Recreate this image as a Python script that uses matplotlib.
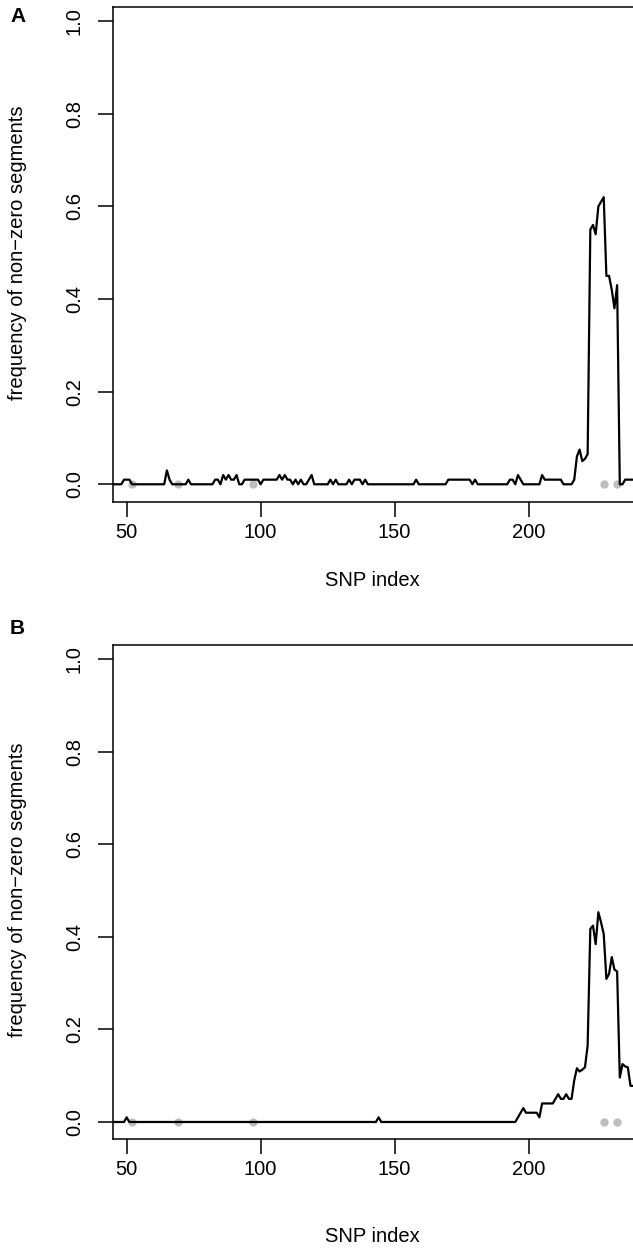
import numpy as np
import matplotlib
matplotlib.use("Agg")
import matplotlib.pyplot as plt

plt.rcParams['font.family'] = ['Liberation Sans', 'DejaVu Sans']

# SNP index for both panels
snp = np.arange(45, 246)

# panel A: frequency of non-zero segments (rows of 10, starting at SNP 45)
freq_a = [
    0, 0, 0, 0, 0.01, 0.01, 0.01, 0, 0, 0,
    0, 0, 0, 0, 0, 0, 0, 0, 0, 0,
    0.03, 0.01, 0, 0, 0, 0, 0, 0, 0.01, 0,
    0, 0, 0, 0, 0, 0, 0, 0, 0.01, 0.01,
    0, 0.02, 0.01, 0.02, 0.01, 0.01, 0.02, 0, 0, 0.01,
    0.01, 0.01, 0.01, 0.01, 0.01, 0, 0.01, 0.01, 0.01, 0.01,
    0.01, 0.01, 0.02, 0.01, 0.02, 0.01, 0.01, 0, 0.01, 0,
    0.01, 0, 0, 0.01, 0.02, 0, 0, 0, 0, 0,
    0, 0.01, 0, 0.01, 0, 0, 0, 0, 0.01, 0,
    0.01, 0.01, 0.01, 0, 0.01, 0, 0, 0, 0, 0,
    0, 0, 0, 0, 0, 0, 0, 0, 0, 0,
    0, 0, 0, 0.01, 0, 0, 0, 0, 0, 0,
    0, 0, 0, 0, 0, 0.01, 0.01, 0.01, 0.01, 0.01,
    0.01, 0.01, 0.01, 0.01, 0, 0.01, 0, 0, 0, 0,
    0, 0, 0, 0, 0, 0, 0, 0, 0.01, 0.01,
    0, 0.02, 0.01, 0, 0, 0, 0, 0, 0, 0,
    0.02, 0.01, 0.01, 0.01, 0.01, 0.01, 0.01, 0.01, 0, 0,
    0, 0, 0.01, 0.06, 0.075, 0.05, 0.055, 0.065, 0.55, 0.56,
    0.54, 0.60, 0.61, 0.62, 0.45, 0.45, 0.42, 0.38, 0.43, 0,
    0, 0.01, 0.01, 0.01, 0.01, 0.01, 0.01, 0.01, 0.01, 0.01,
    0.01,
]

# panel B
freq_b = [
    0, 0, 0, 0, 0, 0.01, 0, 0, 0, 0,
    0, 0, 0, 0, 0, 0, 0, 0, 0, 0,
    0, 0, 0, 0, 0, 0, 0, 0, 0, 0,
    0, 0, 0, 0, 0, 0, 0, 0, 0, 0,
    0, 0, 0, 0, 0, 0, 0, 0, 0, 0,
    0, 0, 0, 0, 0, 0, 0, 0, 0, 0,
    0, 0, 0, 0, 0, 0, 0, 0, 0, 0,
    0, 0, 0, 0, 0, 0, 0, 0, 0, 0,
    0, 0, 0, 0, 0, 0, 0, 0, 0, 0,
    0, 0, 0, 0, 0, 0, 0, 0, 0, 0.01,
    0, 0, 0, 0, 0, 0, 0, 0, 0, 0,
    0, 0, 0, 0, 0, 0, 0, 0, 0, 0,
    0, 0, 0, 0, 0, 0, 0, 0, 0, 0,
    0, 0, 0, 0, 0, 0, 0, 0, 0, 0,
    0, 0, 0, 0, 0, 0, 0, 0, 0, 0,
    0, 0.01, 0.02, 0.03, 0.02, 0.02, 0.02, 0.02, 0.02, 0.01,
    0.04, 0.04, 0.04, 0.04, 0.04, 0.05, 0.06, 0.05, 0.05, 0.06,
    0.05, 0.05, 0.09, 0.116, 0.109, 0.113, 0.118, 0.165, 0.417, 0.424,
    0.384, 0.453, 0.431, 0.406, 0.309, 0.32, 0.356, 0.329, 0.325, 0.096,
    0.125, 0.12, 0.118, 0.078, 0.078, 0.078, 0.078, 0.078, 0.078, 0.078,
    0.078,
]

# grey markers on the baseline
dots_a = [52, 69, 97, 228, 233]
dots_b = [52, 69, 97, 228, 233]

W, H = 633, 1252
FS = 14.5
fig = plt.figure(figsize=(W / 100, H / 100), dpi=100)


def panel(top_px, freq, dots, letter, letter_y, xlab_y):
    # axes box in pixels: left spine 113, right edge past the image
    left, right = 113, 660
    bottom_px = top_px + 494.4
    ax = fig.add_axes([left / W, 1 - bottom_px / H, (right - left) / W, 494.4 / H])
    ax.plot(dots, [0] * len(dots), 'o', color='#bebebe', ms=6, mec='none', zorder=1, clip_on=False)
    ax.plot(snp, freq, color='black', lw=1.6, zorder=2)
    ax.set_xlim(44.9, 249.0)
    ax.set_ylim(-0.0376, 1.030)
    ax.set_xticks([50, 100, 150, 200])
    ax.set_yticks([0.0, 0.2, 0.4, 0.6, 0.8, 1.0])
    ax.set_yticklabels(['0.0', '0.2', '0.4', '0.6', '0.8', '1.0'], rotation=90, va='center')
    ax.tick_params(length=11, width=1.1, labelsize=FS)
    ax.tick_params(axis='x', pad=4)
    ax.tick_params(axis='y', pad=10)
    for s in ax.spines.values():
        s.set_linewidth(1.1)
    fig.text(372 / W, 1 - xlab_y / H, 'SNP index', fontsize=FS, ha='center', va='center')
    fig.text(18 / W, 1 - (top_px + 245) / H, 'frequency of non\u2212zero segments',
             fontsize=FS, rotation=90, ha='center', va='center')
    fig.text(10 / W, 1 - letter_y / H, letter, fontsize=15, fontweight='bold', va='center')
    return ax


panel(7.3, freq_a, dots_a, 'A', 17, 580)
panel(645.0, freq_b, dots_b, 'B', 628, 1236)

fig.savefig('out.png', dpi=100)
